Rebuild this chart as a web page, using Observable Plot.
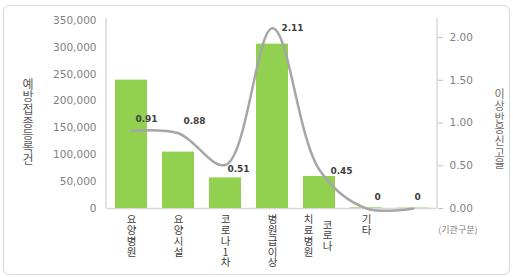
<!DOCTYPE html>
<html>
<head>
<meta charset="utf-8">
<script src="https://cdn.jsdelivr.net/npm/d3@7"></script>
<script src="https://cdn.jsdelivr.net/npm/@observablehq/plot@0.6"></script>
<style>
  html, body { margin: 0; padding: 0; background: #fff; }
  #wrap { position: relative; width: 513px; height: 277px; overflow: hidden; }
  #border { position: absolute; left: 3px; top: 5px; width: 505px; height: 268px; border: 1px solid #d9d9d9; border-radius: 6px; pointer-events: none; }
</style>
</head>
<body>
<div id="wrap"><div id="border"></div></div>
<script>
const categories = ["요양병원", "요양시설", "코로나1차", "병원급이상", "치료병원 코로나", "기타", ""];
const registrations = [239000, 105000, 57000, 306000, 59600, 1200, 700];
const reportRates = [0.91, 0.88, 0.51, 2.11, 0.45, 0, 0];
const leftTicks = [0, 50000, 100000, 150000, 200000, 250000, 300000, 350000];
const rightTicks = [0, 0.5, 1, 1.5, 2];
const leftMax = 350000, rightMax = 2.2;
const leftTitle = "예방접종등록건";
const rightTitle = "이상반응신고율";
const xTitle = "(기관구분)";

const k = leftMax / rightMax;
const rows = categories.map((c, i) => ({cat: c, reg: registrations[i], rate: reportRates[i], scaled: reportRates[i] * k, label: String(reportRates[i])}));

// label offsets (presentation only)
const labelDx = [15, 16, 13, 20, 22, 11, 4];
const labelDy = [-12, -12, 4, 0, 1, -11, -11];

const fontKo = "'Noto Sans CJK KR', 'Noto Sans', sans-serif";
const fontNum = "'DejaVu Sans', Verdana, sans-serif";

// category label marks (stacked vertical text)
const catFont = 10.5, catLH = 1.03;
const catMarks = categories.flatMap((c) => {
  if (!c) return [];
  const cols = c.split(" ");
  const maxLen = d3.max(cols, s => s.length);
  return cols.map((s, j) => Plot.text([c], {
    x: d => d,
    frameAnchor: "bottom",
    text: () => s.split("").join("\n"),
    lineAnchor: "top",
    lineHeight: catLH,
    fontSize: catFont,
    fontFamily: fontKo,
    fill: "#404040",
    dx: cols.length > 1 ? (j - (cols.length - 1) / 2) * 19 - 1.5 : 0,
    dy: 7 + (maxLen - s.length) * catLH * catFont / 2
  }));
});

const labelMarks = rows.map((r, i) => Plot.text([r], {
  x: "cat", y: "scaled", text: "label",
  dx: labelDx[i], dy: labelDy[i],
  fontSize: 9, fontWeight: "bold", fontFamily: fontNum, fill: "#404040"
}));

const chart = Plot.plot({
  width: 513,
  height: 277,
  marginLeft: 106,
  marginRight: 76,
  marginTop: 20,
  marginBottom: 69,
  style: {background: "transparent", overflow: "visible"},
  x: {domain: categories, paddingInner: 0.32, paddingOuter: 0.16, axis: null},
  y: {domain: [0, leftMax], axis: null},
  marks: [
    Plot.ruleY([0], {stroke: "#d9d9d9", strokeWidth: 1.5}),
    Plot.barY(rows, {x: "cat", y: "reg", fill: "#92D050"}),
    Plot.line(rows, {x: "cat", y: "scaled", curve: "catmull-rom", stroke: "#A6A6A6", strokeWidth: 2.5}),
    ...labelMarks,
    Plot.axisY(leftTicks, {anchor: "left", tickSize: 0, tickPadding: 10, tickFormat: d3.format(","), fontSize: 10.5, fontFamily: fontNum, fill: "#7f7f7f", label: null}),
    Plot.axisY(rightTicks.map(v => v * k), {anchor: "right", tickSize: 5, tickPadding: 7, tickFormat: d => (d / k).toFixed(2), fontSize: 10.5, fontFamily: fontNum, fill: "#7f7f7f", stroke: "#bfbfbf", label: null}),
    ...catMarks,
    Plot.text([leftTitle], {frameAnchor: "left", text: d => d.split("").join("\n"), dx: -84, dy: 8, fontSize: 12, lineHeight: 1.05, fontFamily: fontKo, fill: "#595959"}),
    Plot.text([rightTitle], {frameAnchor: "right", text: d => d.split("").join("\n"), dx: 67, dy: 15, fontSize: 11, lineHeight: 1.06, fontFamily: fontKo, fill: "#6f6a66"}),
    Plot.text([xTitle], {frameAnchor: "bottom-right", text: d => d, dx: 40, dy: 24, fontSize: 9, fontFamily: fontKo, fill: "#7f7f7f"})
  ]
});

// vertical axis lines derived from scale ranges
const xs = chart.scale("x").range;
const ys = chart.scale("y").range;
const svg = d3.select(chart);
[xs[0], xs[1]].forEach(xp => {
  svg.append("line").attr("x1", xp).attr("x2", xp).attr("y1", ys[0]).attr("y2", ys[1] - 2)
    .attr("stroke", "#d9d9d9").attr("stroke-width", 1.5);
});

document.getElementById("wrap").prepend(chart);
</script>
</body>
</html>
